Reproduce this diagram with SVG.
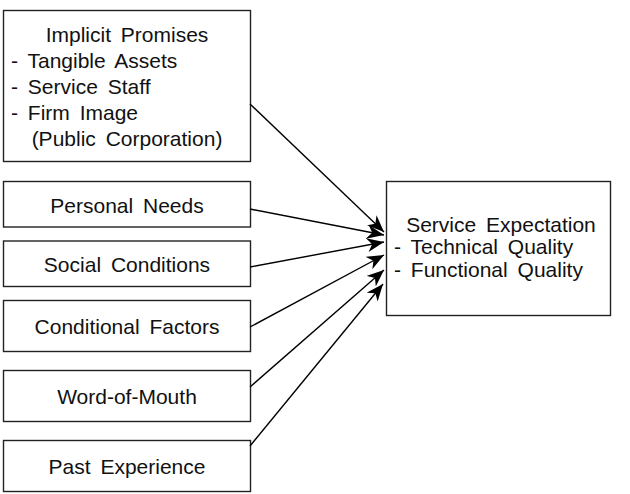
<svg xmlns="http://www.w3.org/2000/svg" width="630" height="494" viewBox="0 0 630 494">
<style>
.box{fill:#fff;stroke:#222;stroke-width:1.4}
.t{font-family:"Liberation Sans",Arial,sans-serif;font-size:21px;fill:#111;word-spacing:4px}
.m{text-anchor:middle}
.c{stroke:#000;stroke-width:1.4;fill:none;marker-end:url(#ah)}
</style>
<defs>
<marker id="ah" markerUnits="userSpaceOnUse" markerWidth="18" markerHeight="14" refX="17" refY="7" orient="auto">
<path d="M0,0 L17,7 L0,14 L5,7 z" fill="#000"/>
</marker>
</defs>
<rect width="630" height="494" fill="#fff"/>
<g id="implicit">
<rect class="box" x="3.5" y="10.5" width="247" height="151"/>
<text class="t m" x="127" y="42">Implicit Promises</text>
<text class="t" x="11" y="68">-  Tangible Assets</text>
<text class="t" x="11" y="94">-  Service Staff</text>
<text class="t" x="11" y="120">-  Firm Image</text>
<text class="t m" x="127" y="146">(Public Corporation)</text>
</g>
<g id="personal">
<rect class="box" x="3.5" y="181.5" width="247" height="45.5"/>
<text class="t m" x="127" y="213">Personal Needs</text>
</g>
<g id="social">
<rect class="box" x="3.5" y="241" width="247" height="45.5"/>
<text class="t m" x="127" y="272">Social Conditions</text>
</g>
<g id="conditional">
<rect class="box" x="3.5" y="300.5" width="247" height="51"/>
<text class="t m" x="127" y="333.5">Conditional Factors</text>
</g>
<g id="wom">
<rect class="box" x="3.5" y="370.5" width="247" height="51"/>
<text class="t m" x="127" y="403.5">Word-of-Mouth</text>
</g>
<g id="past">
<rect class="box" x="3.5" y="440.5" width="247" height="51"/>
<text class="t m" x="127" y="473.5">Past Experience</text>
</g>
<g id="service">
<rect class="box" x="386.5" y="181.5" width="224" height="134"/>
<text class="t m" x="501" y="232">Service Expectation</text>
<text class="t" x="394" y="253.5">-  Technical Quality</text>
<text class="t" x="394" y="276.5">-  Functional Quality</text>
</g>
<g id="connectors">
<line class="c" x1="250" y1="104" x2="384" y2="232"/>
<line class="c" x1="250" y1="209" x2="384" y2="235"/>
<line class="c" x1="250" y1="267" x2="384" y2="242"/>
<line class="c" x1="250" y1="327" x2="384" y2="255"/>
<line class="c" x1="250" y1="387" x2="384" y2="270"/>
<line class="c" x1="250" y1="446" x2="383" y2="284"/>
</g>
</svg>
